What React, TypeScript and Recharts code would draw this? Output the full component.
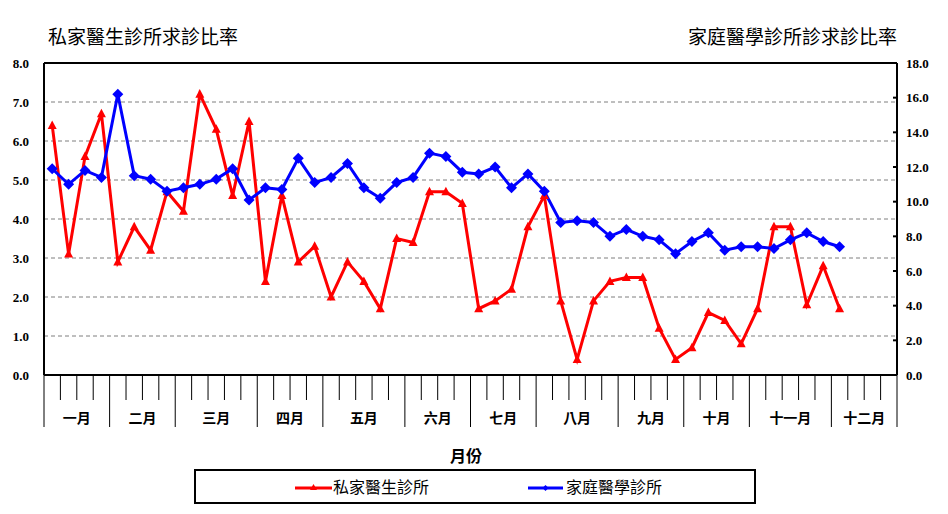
import { LineChart, Line, XAxis, YAxis, CartesianGrid, ReferenceLine } from 'recharts';

// 週次 1-49
const weeks = [
  1, 2, 3, 4, 5, 6, 7, 8, 9, 10, 11, 12, 13, 14, 15, 16, 17, 18, 19, 20, 21, 22, 23, 24, 25,
  26, 27, 28, 29, 30, 31, 32, 33, 34, 35, 36, 37, 38, 39, 40, 41, 42, 43, 44, 45, 46, 47, 48, 49,
];

// 私家醫生診所求診比率 (左軸)
const privateRate = [
  6.4, 3.1, 5.6, 6.7, 2.9, 3.8, 3.2, 4.7, 4.2, 7.2, 6.3, 4.6, 6.5, 2.4, 4.6, 2.9, 3.3, 2.0, 2.9,
  2.4, 1.7, 3.5, 3.4, 4.7, 4.7, 4.4, 1.7, 1.9, 2.2, 3.8, 4.6, 1.9, 0.4, 1.9, 2.4, 2.5, 2.5, 1.2,
  0.4, 0.7, 1.6, 1.4, 0.8, 1.7, 3.8, 3.8, 1.8, 2.8, 1.7,
];

// 家庭醫學診所求診比率 (右軸)
const familyRate = [
  11.9, 11.0, 11.8, 11.4, 16.2, 11.5, 11.3, 10.6, 10.8, 11.0, 11.3, 11.9, 10.1, 10.8, 10.7, 12.5,
  11.1, 11.4, 12.2, 10.8, 10.2, 11.1, 11.4, 12.8, 12.6, 11.7, 11.6, 12.0, 10.8, 11.6, 10.6, 8.8,
  8.9, 8.8, 8.0, 8.4, 8.0, 7.8, 7.0, 7.7, 8.2, 7.2, 7.4, 7.4, 7.3, 7.8, 8.2, 7.7, 7.4,
];

const monthNames = ['一月', '二月', '三月', '四月', '五月', '六月', '七月', '八月', '九月', '十月', '十一月', '十二月'];
const monthWeeks = [4, 4, 5, 4, 5, 4, 4, 5, 4, 4, 5, 4];

const leftTicks = [0, 1, 2, 3, 4, 5, 6, 7, 8];
const rightTicks = [0, 2, 4, 6, 8, 10, 12, 14, 16, 18];

const TOTAL_WEEKS = 52;

const monthStarts: number[] = [];
monthWeeks.reduce((acc, n) => {
  monthStarts.push(acc);
  return acc + n;
}, 0);
const monthBounds = [...monthStarts, TOTAL_WEEKS];
const monthMids = monthStarts.map((s, i) => s + monthWeeks[i] / 2);
const weekTicks = Array.from({ length: TOTAL_WEEKS + 1 }, (_, i) => i);

const data = weeks.map((w, i) => ({
  x: w - 0.5,
  private: privateRate[i],
  family: familyRate[i],
}));

const numFont = '"Liberation Serif", "Times New Roman", serif';
const cjkFont = '"Noto Sans CJK TC", "Noto Sans CJK SC", sans-serif';

function WeekTick(props: any) {
  const { x, y, payload } = props;
  const long = monthBounds.includes(payload.value);
  return <line x1={x} x2={x} y1={y} y2={y + (long ? 52 : 25)} stroke="#000" strokeWidth={1} />;
}

function MonthTick(props: any) {
  const { x, y, payload } = props;
  const idx = monthMids.indexOf(payload.value);
  return (
    <text x={x} y={y + 12} textAnchor="middle" dominantBaseline="central" fontFamily={cjkFont} fontSize={14} fontWeight="bold" fill="#000">
      {monthNames[idx]}
    </text>
  );
}

function LeftTick(props: any) {
  const { x, y, payload } = props;
  return (
    <text x={x - 15} y={y} textAnchor="end" dominantBaseline="central" fontFamily={numFont} fontSize={13} fontWeight="bold" fill="#000">
      {Number(payload.value).toFixed(1)}
    </text>
  );
}

function RightTick(props: any) {
  const { x, y, payload } = props;
  return (
    <g>
      <line x1={x - 4} x2={x} y1={y} y2={y} stroke="#000" strokeWidth={2} />
      <text x={x + 9} y={y} textAnchor="start" dominantBaseline="central" fontFamily={numFont} fontSize={13} fontWeight="bold" fill="#000">
        {Number(payload.value).toFixed(1)}
      </text>
    </g>
  );
}

function Triangle(props: any) {
  const { cx, cy } = props;
  if (cx == null || cy == null) return null;
  return <polygon points={`${cx},${cy - 5} ${cx - 4.5},${cy + 3.5} ${cx + 4.5},${cy + 3.5}`} fill="#ff0000" />;
}

function Diamond(props: any) {
  const { cx, cy } = props;
  if (cx == null || cy == null) return null;
  return <polygon points={`${cx},${cy - 5.5} ${cx + 5.5},${cy} ${cx},${cy + 5.5} ${cx - 5.5},${cy}`} fill="#0000ff" />;
}

export default function App() {
  return (
    <div style={{ position: 'relative', width: 932, height: 498, fontFamily: cjkFont, color: '#000' }}>
      <div style={{ position: 'absolute', left: 40, top: 15, fontSize: 19, lineHeight: '26px' }}>私家醫生診所求診比率</div>
      <div style={{ position: 'absolute', left: 680, top: 15, fontSize: 19, lineHeight: '26px' }}>家庭醫學診所診求診比率</div>

      <LineChart width={932} height={498} data={data} margin={{ top: 55, right: 0, left: 0, bottom: 71 }}>
        <CartesianGrid yAxisId="left" vertical={false} stroke="#7f7f7f" strokeDasharray="4 3" />
        <XAxis
          dataKey="x"
          type="number"
          domain={[0, TOTAL_WEEKS]}
          ticks={weekTicks}
          interval={0}
          tickSize={0}
          tickMargin={0}
          tickLine={false}
          axisLine={{ stroke: '#000', strokeWidth: 2 }}
          tick={<WeekTick />}
          height={30}
        />
        <XAxis
          xAxisId="m"
          dataKey="x"
          type="number"
          domain={[0, TOTAL_WEEKS]}
          ticks={monthMids}
          interval={0}
          tickSize={0}
          tickMargin={0}
          tickLine={false}
          axisLine={false}
          tick={<MonthTick />}
          height={30}
        />
        <YAxis
          yAxisId="left"
          domain={[0, 8]}
          ticks={leftTicks}
          interval={0}
          width={36}
          tickSize={0}
          tickMargin={0}
          tickLine={false}
          axisLine={{ stroke: '#000', strokeWidth: 2 }}
          tick={<LeftTick />}
        />
        <YAxis
          yAxisId="right"
          orientation="right"
          domain={[0, 18]}
          ticks={rightTicks}
          interval={0}
          width={43}
          tickSize={0}
          tickMargin={0}
          tickLine={false}
          axisLine={{ stroke: '#000', strokeWidth: 2 }}
          tick={<RightTick />}
        />
        <ReferenceLine yAxisId="left" y={8} stroke="#000" strokeWidth={2} />
        <Line
          yAxisId="left"
          dataKey="private"
          type="linear"
          stroke="#ff0000"
          strokeWidth={3}
          dot={<Triangle />}
          activeDot={false}
          isAnimationActive={false}
        />
        <Line
          yAxisId="right"
          dataKey="family"
          type="linear"
          stroke="#0000ff"
          strokeWidth={3}
          dot={<Diamond />}
          activeDot={false}
          isAnimationActive={false}
        />
      </LineChart>

      <div style={{ position: 'absolute', left: 442, top: 436, fontSize: 16, fontWeight: 'bold', lineHeight: '22px' }}>月份</div>

      <div
        style={{
          position: 'absolute',
          left: 186,
          top: 461,
          width: 558,
          height: 31,
          border: '2px solid #000',
          boxSizing: 'content-box',
        }}
      >
        <svg style={{ position: 'absolute', left: 99, top: 9 }} width={40} height={16}>
          <line x1={0} x2={37} y1={8} y2={8} stroke="#ff0000" strokeWidth={3} />
          <polygon points="18.5,4 15,10 22,10" fill="#ff0000" />
        </svg>
        <div style={{ position: 'absolute', left: 137, top: 4, fontSize: 16, lineHeight: '22px' }}>私家醫生診所</div>
        <svg style={{ position: 'absolute', left: 332, top: 9 }} width={40} height={16}>
          <line x1={0} x2={35} y1={8} y2={8} stroke="#0000ff" strokeWidth={3} />
          <polygon points="17.5,5 20.5,8 17.5,11 14.5,8" fill="#0000ff" />
        </svg>
        <div style={{ position: 'absolute', left: 370, top: 4, fontSize: 16, lineHeight: '22px' }}>家庭醫學診所</div>
      </div>
    </div>
  );
}
